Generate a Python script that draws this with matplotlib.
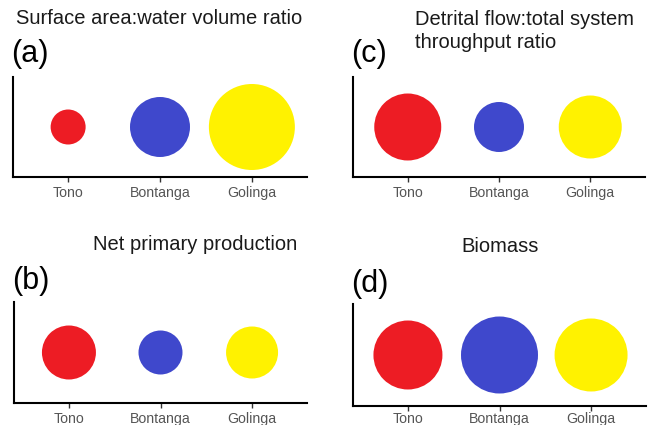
import matplotlib
matplotlib.use("Agg")
import matplotlib.pyplot as plt

plt.rcParams['font.family'] = ['Liberation Sans', 'DejaVu Sans']

# reservoirs and their colours
sites = ["Tono", "Bontanga", "Golinga"]
site_colors = ['#ed1c24', '#3f48cc', '#fff200']

# relative magnitudes (bubble diameter, arbitrary units)
surface_water_ratio = [35, 60, 86]
net_primary_prod = [54, 44, 52]
detrital_tst_ratio = [67, 50, 63]
biomass = [69, 77, 73]

W, H = 654, 425
DPI = 100


def px_rect(left, top, right, bottom):
    # pixel box -> figure fraction rect
    return [left / W, 1 - bottom / H, (right - left) / W, (bottom - top) / H]


def fig_text(fig, x, y, s, **kw):
    fig.text(x / W, 1 - y / H, s, **kw)


def bubble_panel(fig, rect, values, pad=3):
    ax = fig.add_axes(px_rect(*rect))
    xs = [1, 2, 3]
    # diameter in units -> marker area in points^2
    sizes = [(v * 72.0 / DPI) ** 2 for v in values]
    ax.scatter(xs, [0.5] * 3, s=sizes, c=site_colors, linewidths=0, clip_on=False, zorder=3)
    ax.set_xlim(0.4, 3.6)
    ax.set_ylim(0, 1)
    ax.set_xticks(xs)
    ax.set_xticklabels(sites)
    ax.set_yticks([])
    for side in ['top', 'right']:
        ax.spines[side].set_visible(False)
    for side in ['left', 'bottom']:
        ax.spines[side].set_linewidth(1.5)
        ax.spines[side].set_color('black')
    ax.tick_params(axis='x', length=3.5, width=1, color='#333333',
                   labelcolor='#555555', labelsize=10.2, pad=pad)
    return ax


fig = plt.figure(figsize=(W / DPI, H / DPI), dpi=DPI)

bubble_panel(fig, (13, 77, 307, 177), surface_water_ratio)
bubble_panel(fig, (353, 77, 645, 177), detrital_tst_ratio)
bubble_panel(fig, (14, 302, 307, 403), net_primary_prod)
bubble_panel(fig, (353, 304, 646, 406), biomass, pad=1)

title_kw = dict(fontsize=14.5, color='#1a1a1a', va='center')
fig_text(fig, 159, 18, "Surface area:water volume ratio", ha='center', **title_kw)
fig_text(fig, 415, 31, "Detrital flow:total system\nthroughput ratio", ha='left',
         linespacing=1.25, **title_kw)
fig_text(fig, 195, 244, "Net primary production", ha='center', **title_kw)
fig_text(fig, 500, 247, "Biomass", ha='center', **title_kw)

label_kw = dict(fontsize=22, color='black', va='center', ha='left')
fig_text(fig, 11, 54, "(a)", **label_kw)
fig_text(fig, 351, 54, "(c)", **label_kw)
fig_text(fig, 12, 281, "(b)", **label_kw)
fig_text(fig, 351, 284, "(d)", **label_kw)

fig.savefig("out.png", dpi=DPI)
